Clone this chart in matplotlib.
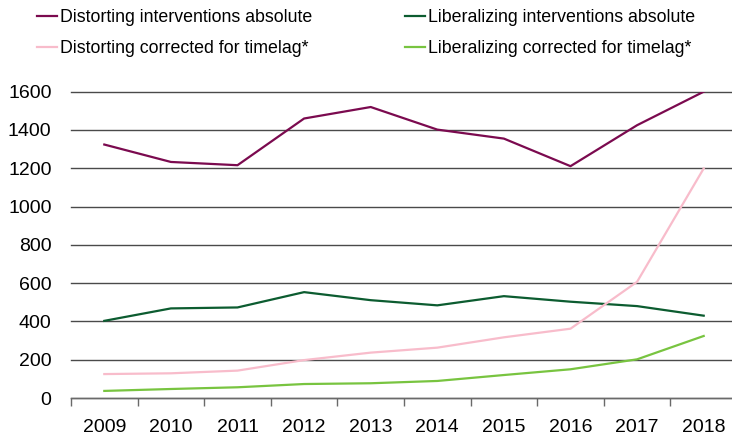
import matplotlib
matplotlib.use("Agg")
import matplotlib.pyplot as plt
import numpy as np

plt.rcParams['font.family'] = ['Liberation Sans', 'DejaVu Sans']

years = ["2009", "2010", "2011", "2012", "2013", "2014", "2015", "2016", "2017", "2018"]
distorting_abs = [1324, 1233, 1216, 1460, 1520, 1402, 1355, 1211, 1425, 1600]
liberalizing_abs = [403, 468, 473, 553, 511, 484, 532, 503, 480, 430]
distorting_corr = [125, 129, 143, 198, 237, 263, 317, 362, 607, 1199]
liberalizing_corr = [37, 47, 56, 73, 77, 89, 120, 150, 202, 324]
yticks = [0, 200, 400, 600, 800, 1000, 1200, 1400, 1600]

W, H = 732, 436
fig = plt.figure(figsize=(W / 100, H / 100), dpi=100)
x0, x1 = 71, 737
ybot, ytop = 398, 91.7
ax = fig.add_axes([x0 / W, (H - ybot) / H, (x1 - x0) / W, (ybot - ytop) / H])

x = np.arange(len(years))
l1, = ax.plot(x, distorting_abs, color='#7b0a4f', lw=1.6, label='Distorting interventions absolute')
l2, = ax.plot(x, liberalizing_abs, color='#0c5c30', lw=1.6, label='Liberalizing interventions absolute')
l3, = ax.plot(x, distorting_corr, color='#f8bccb', lw=1.6, label='Distorting corrected for timelag*')
l4, = ax.plot(x, liberalizing_corr, color='#78c440', lw=1.6, label='Liberalizing corrected for timelag*')

ax.set_xlim(-0.5, len(years) - 0.5)
ax.set_ylim(0, 1600)
ax.set_yticks(yticks)
ax.set_yticklabels([str(v) for v in yticks])
ax.yaxis.grid(True, color='#4a4a4a', lw=1.0, clip_on=False)
ax.set_axisbelow(True)
for s in ['top', 'right', 'left']:
    ax.spines[s].set_visible(False)
ax.spines['bottom'].set_color('#6a6a6a')
ax.spines['bottom'].set_linewidth(1.0)
ax.tick_params(axis='y', length=0, pad=14, labelsize=14, colors='black')

ax.set_xticks(x)
ax.set_xticklabels(years)
ax.set_xticks(np.arange(-0.5, len(years), 1.0), minor=True)
ax.tick_params(axis='x', which='major', length=0, pad=15, labelsize=14)
ax.tick_params(axis='x', which='minor', length=6, width=1.0, color='#6a6a6a')

fig.legend(handles=[l1, l3, l2, l4], ncol=2, loc='upper left',
           bbox_to_anchor=(30 / W, 1 - 2.0 / H), frameon=False, fontsize=12.8,
           handlelength=1.12, handletextpad=0.17, columnspacing=5.22,
           labelspacing=0.79, borderaxespad=0.0)

fig.savefig('out.png', dpi=100)
